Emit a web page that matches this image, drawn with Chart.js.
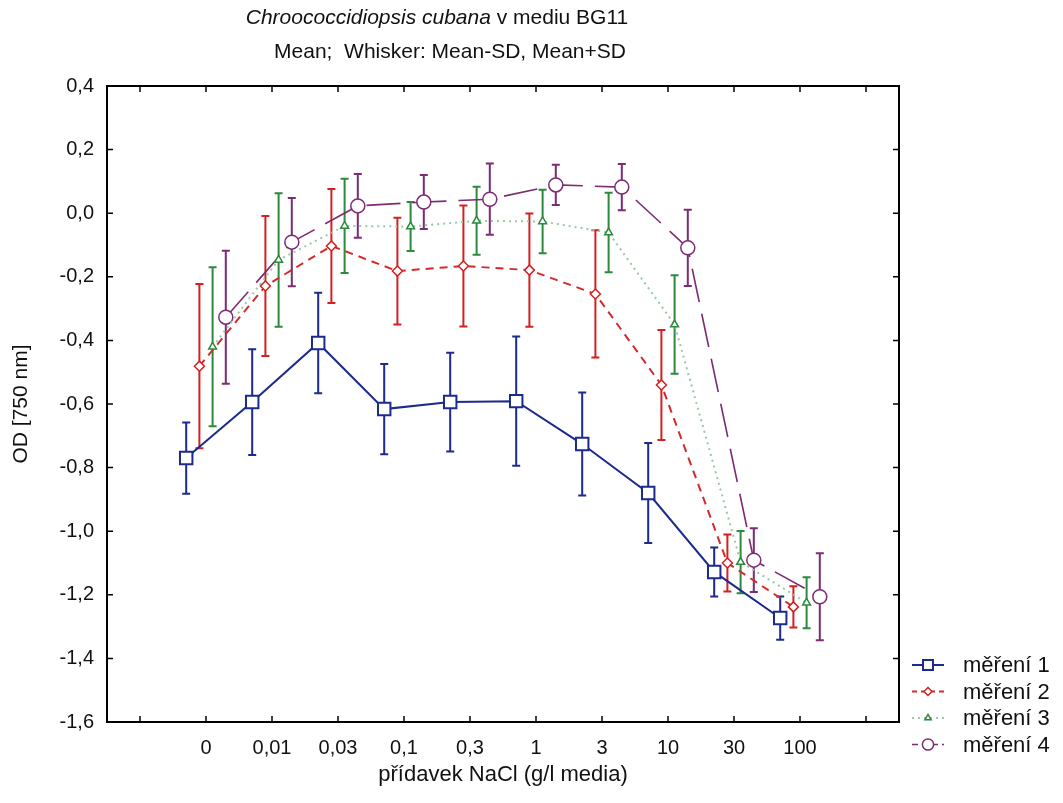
<!DOCTYPE html>
<html><head><meta charset="utf-8">
<script src="https://cdn.jsdelivr.net/npm/chart.js@4"></script>
<style>html,body{margin:0;padding:0;background:#fff;} #wrap{width:1063px;height:803px;position:relative;}</style>
</head><body><div id="wrap"><canvas id="c" width="1063" height="803"></canvas></div>
<script>
const categories = ['0','0,01','0,03','0,1','0,3','1','3','10','30','100'];
const seriesNames = ['měření 1','měření 2','měření 3','měření 4'];
const mean1 = [-0.770, -0.594, -0.408, -0.616, -0.594, -0.591, -0.726, -0.880, -1.128, -1.273];
const sd1   = [ 0.112,  0.166,  0.158,  0.142,  0.155,  0.203,  0.162,  0.157,  0.077,  0.068];
const mean2 = [-0.481, -0.229, -0.103, -0.182, -0.166, -0.179, -0.254, -0.540, -1.100, -1.238];
const sd2   = [ 0.258,  0.220,  0.179,  0.168,  0.190,  0.178,  0.200,  0.173,  0.090,  0.065];
const mean3 = [-0.420, -0.147, -0.040, -0.042, -0.024, -0.026, -0.061, -0.350, -1.097, -1.225];
const sd3   = [ 0.250,  0.210,  0.148,  0.077,  0.107,  0.100,  0.125,  0.155,  0.098,  0.080];
const mean4 = [-0.327, -0.091,  0.023,  0.035,  0.044,  0.089,  0.082, -0.109, -1.091, -1.206];
const sd4   = [ 0.209,  0.139,  0.100,  0.085,  0.112,  0.063,  0.073,  0.120,  0.100,  0.137];
const yMin = -1.6, yMax = 0.4, yStep = 0.2;

const means = [mean1, mean2, mean3, mean4];
const sds = [sd1, sd2, sd3, sd4];
const dodge = [-0.3, -0.1, 0.1, 0.3];
const lineColors = ['#1c2a8c', '#d42a2a', '#97c9a2', '#7d2b73'];
const barColors  = ['#1c2a8c', '#d42020', '#2b8a3c', '#7d2b73'];
const dashes = [[], [8, 6], [2, 4], [34, 12]];
const widths = [2, 2, 2, 1.6];
const pStyles = ['rect', 'rectRot', 'triangle', 'circle'];
const pRadius = [8.8, 5, 4.5, 7];
const FONT = '"Liberation Sans", Arial, sans-serif';

const datasets = means.map((m, s) => ({
  label: seriesNames[s],
  data: m.map((v, i) => ({x: i + dodge[s], y: v})),
  sd: sds[s],
  borderColor: lineColors[s],
  borderWidth: widths[s],
  borderDash: dashes[s],
  pointStyle: pStyles[s],
  pointRadius: pRadius[s],
  pointBackgroundColor: '#fff',
  pointBorderColor: barColors[s],
  pointBorderWidth: s === 0 ? 2 : 1.5,
  barColor: barColors[s],
  tension: 0,
  fill: false
}));

const errorBars = {
  id: 'errorBars',
  beforeDatasetsDraw(chart) {
    const ctx = chart.ctx, y = chart.scales.y;
    chart.data.datasets.forEach((ds, di) => {
      const meta = chart.getDatasetMeta(di);
      ctx.save();
      ctx.strokeStyle = ds.barColor;
      ctx.lineWidth = 2;
      ctx.setLineDash([]);
      meta.data.forEach((pt, i) => {
        const v = ds.data[i].y, e = ds.sd[i];
        const yt = y.getPixelForValue(v + e), yb = y.getPixelForValue(v - e);
        const x = pt.x, cap = 4;
        ctx.beginPath();
        ctx.moveTo(x, yt); ctx.lineTo(x, yb);
        ctx.moveTo(x - cap, yt); ctx.lineTo(x + cap, yt);
        ctx.moveTo(x - cap, yb); ctx.lineTo(x + cap, yb);
        ctx.stroke();
      });
      ctx.restore();
    });
  }
};

const frame = {
  id: 'frame',
  afterDraw(chart) {
    const ctx = chart.ctx, a = chart.chartArea;
    const xs = chart.scales.x, ys = chart.scales.y;
    ctx.save();
    ctx.strokeStyle = '#000';
    ctx.lineWidth = 2;
    ctx.setLineDash([]);
    ctx.strokeRect(a.left, a.top, a.right - a.left, a.bottom - a.top);
    ctx.lineWidth = 1.5;
    const tl = 6;
    ctx.beginPath();
    xs.ticks.forEach(t => {
      const px = xs.getPixelForValue(t.value);
      ctx.moveTo(px, a.bottom); ctx.lineTo(px, a.bottom - tl);
      ctx.moveTo(px, a.top); ctx.lineTo(px, a.top + tl);
    });
    ys.ticks.forEach(t => {
      const py = ys.getPixelForValue(t.value);
      ctx.moveTo(a.left, py); ctx.lineTo(a.left + tl, py);
      ctx.moveTo(a.right, py); ctx.lineTo(a.right - tl, py);
    });
    ctx.stroke();

    // title
    ctx.fillStyle = '#111';
    ctx.textBaseline = 'middle';
    ctx.textAlign = 'left';
    const p1 = 'Chroococcidiopsis cubana', p2 = ' v mediu BG11';
    const fs = 21;
    ctx.font = 'italic ' + fs + 'px ' + FONT;
    const w1 = ctx.measureText(p1).width;
    ctx.font = fs + 'px ' + FONT;
    const w2 = ctx.measureText(p2).width;
    const cx = 437;
    let x0 = cx - (w1 + w2) / 2;
    ctx.font = 'italic ' + fs + 'px ' + FONT;
    ctx.fillText(p1, x0, 18);
    ctx.font = fs + 'px ' + FONT;
    ctx.fillText(p2, x0 + w1, 18);
    ctx.textAlign = 'center';
    ctx.fillText('Mean;  Whisker: Mean-SD, Mean+SD', 450, 52);

    // legend
    const ly0 = 665, lstep = 26.5;
    chart.data.datasets.forEach((ds, i) => {
      const yy = ly0 + i * lstep;
      ctx.save();
      ctx.strokeStyle = ds.borderColor;
      ctx.lineWidth = ds.borderWidth;
      ctx.setLineDash(i === 3 ? [6, 4] : (i === 1 ? [5, 4] : ds.borderDash));
      ctx.beginPath();
      ctx.moveTo(912, yy); ctx.lineTo(944, yy);
      ctx.stroke();
      ctx.setLineDash([]);
      ctx.fillStyle = '#fff';
      ctx.strokeStyle = ds.pointBorderColor;
      ctx.lineWidth = ds.pointBorderWidth;
      Chart.helpers.drawPoint(ctx, {pointStyle: ds.pointStyle, radius: ds.pointRadius * 0.8, rotation: 0, borderWidth: ds.pointBorderWidth}, 928, yy);
      ctx.restore();
      ctx.fillStyle = '#111';
      ctx.textAlign = 'left';
      ctx.font = '22px ' + FONT;
      ctx.fillText(ds.label, 963, yy + 1);
    });
    ctx.restore();
  }
};

new Chart(document.getElementById('c'), {
  type: 'line',
  data: {datasets},
  options: {
    responsive: false,
    animation: false,
    devicePixelRatio: 1,
    layout: {padding: {top: 86, right: 164, left: 0, bottom: 0}},
    plugins: {legend: {display: false}, tooltip: {enabled: false}, title: {display: false}},
    scales: {
      x: {
        type: 'linear',
        min: -1.5, max: categories.length + 0.5,
        afterBuildTicks(ax) {
          const vals = [-1];
          categories.forEach((c, i) => vals.push(i));
          vals.push(categories.length);
          ax.ticks = vals.map(v => ({value: v}));
        },
        afterFit(s) { s.height = 81; },
        grid: {display: false},
        border: {display: false},
        ticks: {
          autoSkip: false, maxRotation: 0, padding: 6, color: '#111',
          font: {family: FONT, size: 20},
          callback: (v) => (categories[v] !== undefined ? categories[v] : '')
        },
        title: {display: true, text: 'přídavek NaCl (g/l media)', color: '#111',
          font: {family: FONT, size: 22}, padding: {top: 0, bottom: 15}}
      },
      y: {
        min: yMin, max: yMax,
        afterFit(s) { s.width = 107; },
        grid: {display: false},
        border: {display: false},
        ticks: {
          stepSize: yStep, padding: 5, color: '#111',
          font: {family: FONT, size: 20},
          callback: (v) => (Math.abs(v) < 1e-9 ? 0 : v).toFixed(1).replace('.', ',')
        },
        title: {display: true, text: 'OD [750 nm]', color: '#111',
          font: {family: FONT, size: 21}, padding: {top: 9, bottom: 0}}
      }
    }
  },
  plugins: [errorBars, frame]
});
</script>
</body></html>
